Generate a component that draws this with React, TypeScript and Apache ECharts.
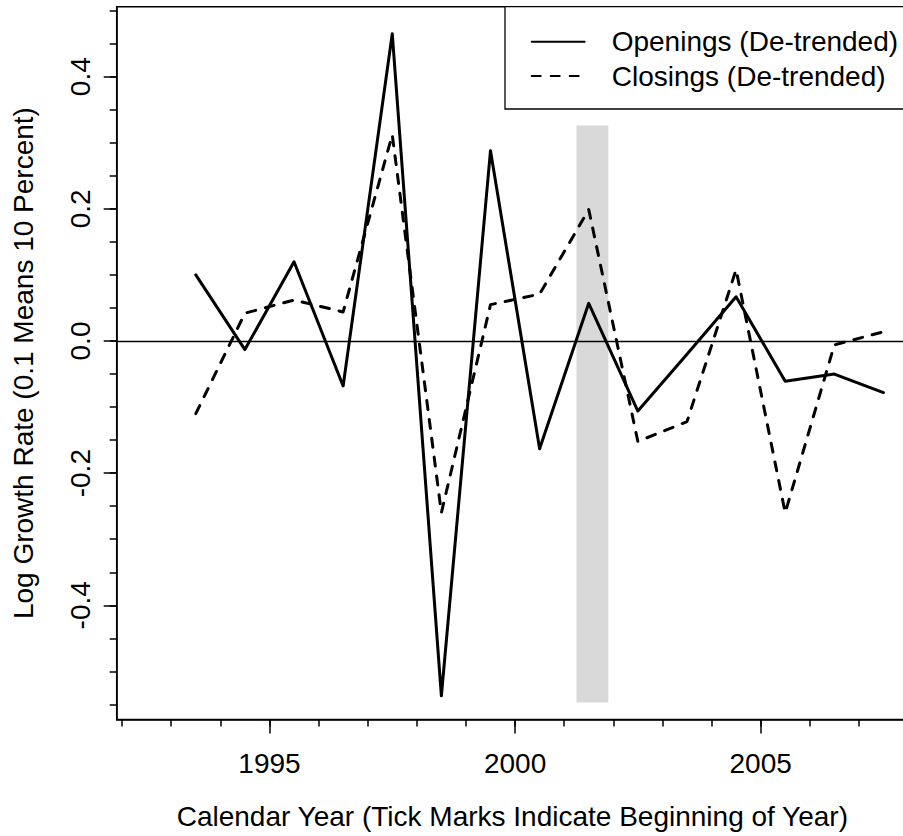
import React, { useEffect, useRef } from 'react';
import * as echarts from 'echarts';

// mid-year observations
const years = [1993.5, 1994.5, 1995.5, 1996.5, 1997.5, 1998.5, 1999.5, 2000.5, 2001.5, 2002.5, 2003.5, 2004.5, 2005.5, 2006.5, 2007.5];
const openings = [0.100, -0.013, 0.120, -0.068, 0.465, -0.537, 0.288, -0.163, 0.057, -0.106, -0.020, 0.067, -0.061, -0.050, -0.078];
const closings = [-0.110, 0.042, 0.062, 0.044, 0.312, -0.260, 0.055, 0.071, 0.199, -0.152, -0.122, 0.108, -0.260, -0.006, 0.014];

// shaded recession band (x from/to, y from/to)
const bandYears = [2001.25, 2001.9];
const bandValues = [-0.547, 0.326];

const xMinorTicks = [1992, 1993, 1994, 1995, 1996, 1997, 1998, 1999, 2000, 2001, 2002, 2003, 2004, 2005, 2006, 2007];
const xMajorTicks = [1995, 2000, 2005];
const yMinorTicks = [-0.55, -0.5, -0.45, -0.4, -0.35, -0.3, -0.25, -0.2, -0.15, -0.1, -0.05, 0, 0.05, 0.1, 0.15, 0.2, 0.25, 0.3, 0.35, 0.4, 0.45, 0.5];
const yMajorTicks = [-0.4, -0.2, 0, 0.2, 0.4];

const seriesNames = ['Openings (De-trended)', 'Closings (De-trended)'];

const FONT = '"Liberation Sans", Arial, Helvetica, sans-serif';
const X_MIN = 1991.89;
const X_MAX = 2008.0;
const Y_MIN = -0.5728;
const Y_MAX = 0.5059;

export default function App() {
  const ref = useRef<HTMLDivElement | null>(null);

  useEffect(() => {
    if (!ref.current) return;
    const chart = echarts.init(ref.current, undefined, { renderer: 'svg' });

    const xBase = { type: 'value', min: X_MIN, max: X_MAX, splitLine: { show: false } };
    const yBase = { type: 'value', min: Y_MIN, max: Y_MAX, splitLine: { show: false } };
    const tickStyle = { color: '#000', width: 1.5 };

    chart.setOption({
      animation: false,
      backgroundColor: '#fff',
      textStyle: { fontFamily: FONT },
      grid: {
        left: 116.7, top: 6.7, right: 4, bottom: 116.5,
        show: true, borderColor: '#000', borderWidth: 1.5, backgroundColor: 'transparent',
        containLabel: false, outerBoundsMode: 'none',
      },
      legend: {
        data: seriesNames,
        orient: 'vertical',
        left: 505, top: 6.7,
        padding: [20, 11, 18, 25.7],
        itemGap: 4.3,
        itemWidth: 53, itemHeight: 14,
        borderColor: '#000', borderWidth: 1.3,
        backgroundColor: '#fff',
        // line series legends add a marker; make it invisible so only the line shows
        itemStyle: { color: 'rgba(0,0,0,0)', borderWidth: 0, opacity: 0 },
        textStyle: { fontSize: 28, color: '#000', fontFamily: FONT, lineHeight: 30, padding: [0, 0, 0, 22] },
      },
      xAxis: [
        {
          ...xBase,
          name: 'Calendar Year (Tick Marks Indicate Beginning of Year)',
          nameLocation: 'middle', nameGap: 82.5,
          nameTextStyle: { fontSize: 28, color: '#000', fontFamily: FONT },
          axisLine: { show: true, onZero: false, lineStyle: { color: '#000', width: 1.5 } },
          axisTick: { show: true, customValues: xMinorTicks, length: 7, lineStyle: tickStyle },
          axisLabel: {
            customValues: xMajorTicks, margin: 29.5, fontSize: 28, color: '#000', fontFamily: FONT,
            formatter: (v: number) => String(Math.round(v)),
          },
        },
        {
          ...xBase,
          position: 'bottom',
          axisLine: { show: false, onZero: false },
          axisTick: { show: true, customValues: xMajorTicks, length: 14, lineStyle: tickStyle },
          axisLabel: { show: false },
        },
      ],
      yAxis: [
        {
          ...yBase,
          name: 'Log Growth Rate (0.1 Means 10 Percent)',
          nameLocation: 'middle', nameRotate: 90, nameGap: 79,
          nameTextStyle: { fontSize: 28, color: '#000', fontFamily: FONT },
          axisLine: { show: true, onZero: false, lineStyle: { color: '#000', width: 1.5 } },
          axisTick: { show: true, customValues: yMinorTicks, length: 7, lineStyle: tickStyle },
          axisLabel: {
            customValues: yMajorTicks, rotate: 90, margin: 22, fontSize: 28, color: '#000', fontFamily: FONT,
            formatter: (v: number) => v.toFixed(1),
          },
        },
        {
          ...yBase,
          position: 'left',
          axisLine: { show: false, onZero: false },
          axisTick: { show: true, customValues: yMajorTicks, length: 13, lineStyle: tickStyle },
          axisLabel: { show: false },
        },
      ],
      series: [
        {
          name: 'band',
          type: 'line',
          data: [],
          z: 1,
          silent: true,
          markArea: {
            silent: true,
            itemStyle: { color: '#d9d9d9' },
            data: [[{ coord: [bandYears[0], bandValues[1]] }, { coord: [bandYears[1], bandValues[0]] }]],
          },
          markLine: {
            silent: true,
            symbol: ['none', 'none'],
            label: { show: false },
            lineStyle: { color: '#000', width: 1.3, type: 'solid' },
            data: [{ yAxis: 0 }],
          },
        },
        {
          name: seriesNames[0],
          type: 'line',
          z: 3,
          symbol: 'none',
          data: years.map((y, i) => [y, openings[i]]),
          lineStyle: { color: '#000', width: 3, type: 'solid', cap: 'round', join: 'round' },
          itemStyle: { color: '#000' },
        },
        {
          name: seriesNames[1],
          type: 'line',
          z: 3,
          symbol: 'none',
          data: years.map((y, i) => [y, closings[i]]),
          lineStyle: { color: '#000', width: 3, type: [9, 10], cap: 'round', join: 'round' },
          itemStyle: { color: '#000' },
        },
      ],
    });

    return () => chart.dispose();
  }, []);

  return (
    <div style={{ position: 'fixed', left: 0, top: 0, width: 903, height: 836, overflow: 'hidden', background: '#fff' }}>
      <div ref={ref} style={{ width: 912, height: 836 }} />
    </div>
  );
}
